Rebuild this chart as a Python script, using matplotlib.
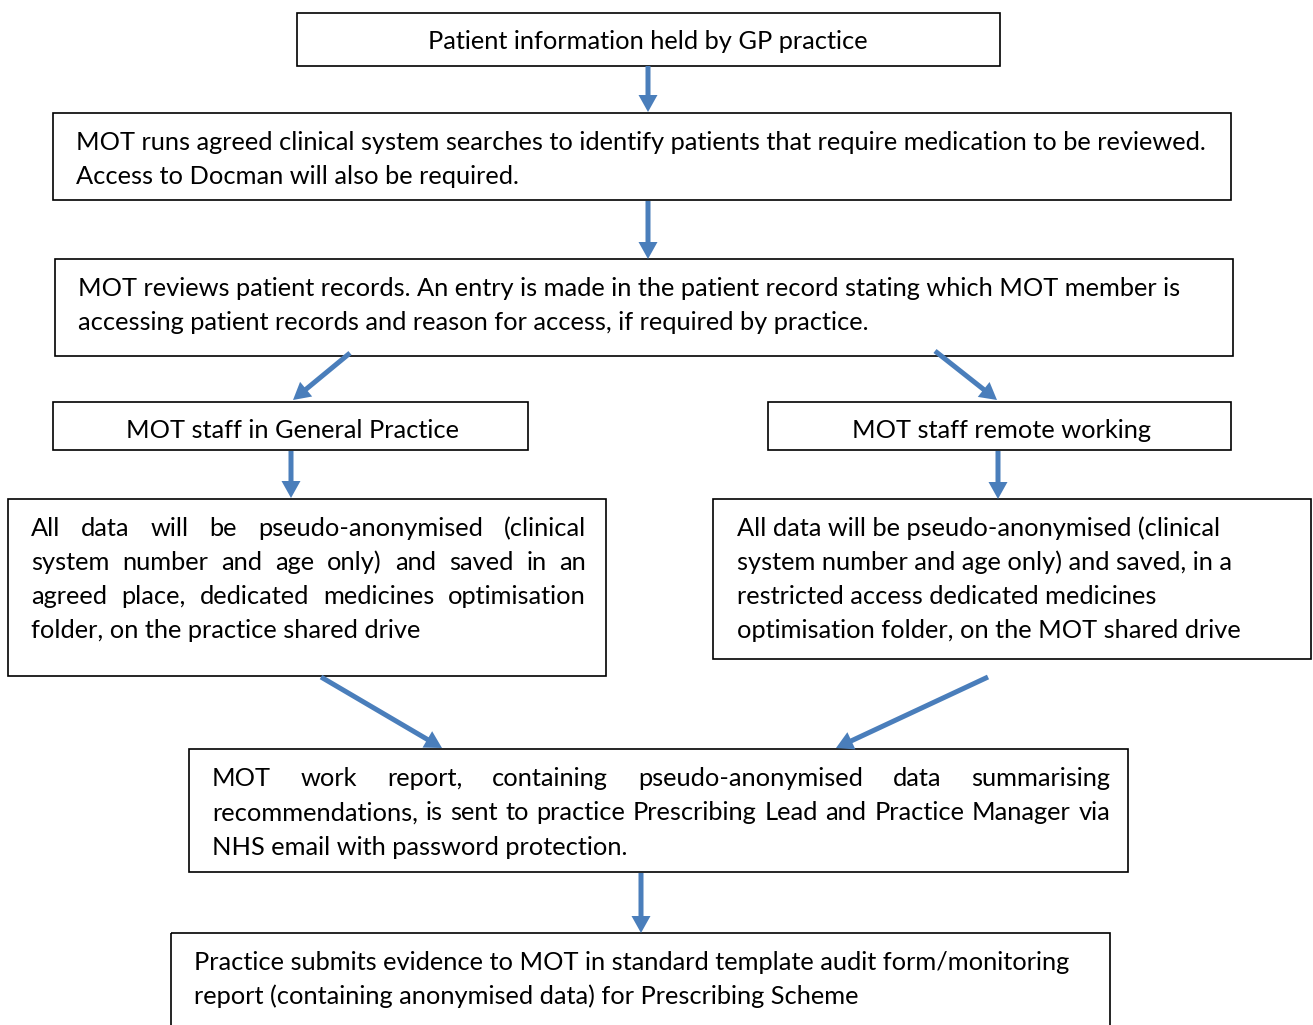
import matplotlib
matplotlib.use("Agg")
import matplotlib.pyplot as plt
from matplotlib.patches import Rectangle, FancyArrow

# box outlines in image pixels: left, top, right, bottom
box_left = [297, 53, 55, 53, 768, 8, 713, 189, 171]
box_top = [13, 113, 259, 402, 402, 499, 499, 749, 933]
box_right = [1000, 1231, 1233, 528, 1231, 606, 1311, 1128, 1110]
box_bottom = [66, 200, 356, 450, 450, 676, 659, 872, 1040]

box_lines = [
    ["Patient information held by GP practice"],
    ["MOT runs agreed clinical system searches to identify patients that require medication to be reviewed.",
     "Access to Docman will also be required."],
    ["MOT reviews patient records. An entry is made in the patient record stating which MOT member is",
     "accessing patient records and reason for access, if required by practice."],
    ["MOT staff in General Practice"],
    ["MOT staff remote working"],
    ["All data will be pseudo-anonymised (clinical",
     "system number and age only) and saved in an",
     "agreed place, dedicated medicines optimisation",
     "folder, on the practice shared drive"],
    ["All data will be pseudo-anonymised (clinical",
     "system number and age only) and saved, in a",
     "restricted access dedicated medicines",
     "optimisation folder, on the MOT shared drive"],
    ["MOT work report, containing pseudo-anonymised data summarising",
     "recommendations, is sent to practice Prescribing Lead and Practice Manager via",
     "NHS email with password protection."],
    ["Practice submits evidence to MOT in standard template audit form/monitoring",
     "report (containing anonymised data) for Prescribing Scheme"],
]
box_align = ["center", "left", "left", "center", "center", "justify", "left", "justify", "left"]
text_x = [648, 76, 78, 292, 1002, 31, 737, 212, 194]
text_right = [None, None, None, None, None, 586, None, 1110, None]
first_line_y = [40, 141, 287, 429, 429, 527, 527, 777, 961]
line_step = [34, 34, 34, 34, 34, 34, 34, 34.5, 34]

# arrows: start (x, y) -> end (x, y)
arrow_x0 = [648, 648, 350, 935, 291, 998, 321, 988, 641]
arrow_y0 = [66, 201, 353, 351, 451, 451, 677, 677, 873]
arrow_x1 = [648, 648, 293, 997, 291, 998, 442, 836, 641]
arrow_y1 = [112, 259, 400, 400, 498, 499, 748, 748, 933]

W, H = 1313, 1025
arrow_col = "#4a7ebb"
font = "Lato"

fig = plt.figure(figsize=(W / 100, H / 100), dpi=100)
ax = fig.add_axes([0, 0, 1, 1])
ax.set_xlim(0, W)
ax.set_ylim(H, 0)
ax.axis("off")
renderer = fig.canvas.get_renderer()


def text_width(s, size):
    t = ax.text(0, 0, s, fontsize=size, family=font)
    w = t.get_window_extent(renderer).width
    t.remove()
    return w


# size the font so the longest line matches the reference width
fs = 20 * 1132 / text_width(box_lines[1][0], 20)

for i in range(len(box_left)):
    ax.add_patch(Rectangle((box_left[i], box_top[i]), box_right[i] - box_left[i],
                           box_bottom[i] - box_top[i], fill=False, ec="black", lw=1.2))
    for j, line in enumerate(box_lines[i]):
        y = first_line_y[i] + j * line_step[i] + 9
        if box_align[i] == "center":
            ax.text(text_x[i], y, line, fontsize=fs, family=font, ha="center", va="baseline")
        elif box_align[i] == "justify" and j < len(box_lines[i]) - 1:
            words = line.split(" ")
            widths = [text_width(w, fs) for w in words]
            gap = (text_right[i] - text_x[i] - sum(widths)) / (len(words) - 1)
            x = text_x[i]
            for w, wd in zip(words, widths):
                ax.text(x, y, w, fontsize=fs, family=font, ha="left", va="baseline")
                x += wd + gap
        else:
            ax.text(text_x[i], y, line, fontsize=fs, family=font, ha="left", va="baseline")

for k in range(len(arrow_x0)):
    dx = arrow_x1[k] - arrow_x0[k]
    dy = arrow_y1[k] - arrow_y0[k]
    ax.add_patch(FancyArrow(arrow_x0[k], arrow_y0[k], dx, dy, width=5, head_width=19,
                            head_length=17, length_includes_head=True,
                            color=arrow_col, lw=0))

fig.savefig("out.png", dpi=100)
